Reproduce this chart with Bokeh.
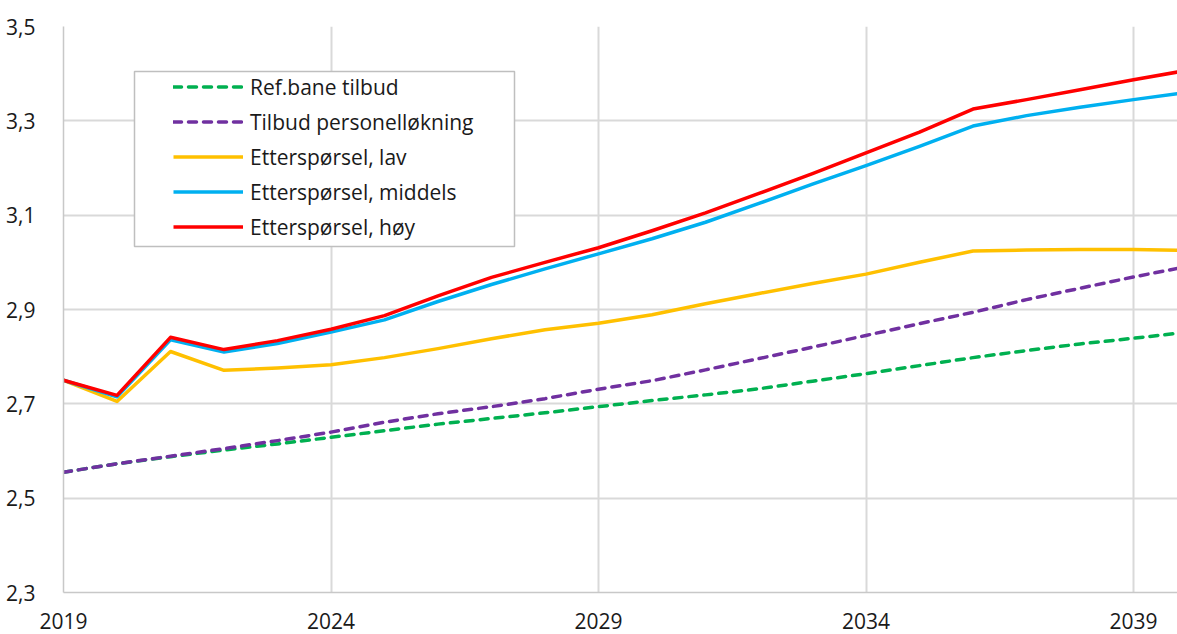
from bokeh.plotting import figure
from bokeh.models import (Range1d, FixedTicker, CustomJSTickFormatter, Legend,
                          LegendItem, BoxAnnotation)
from bokeh.embed import file_html
from bokeh.resources import INLINE

years = list(range(2019, 2041))

ref_tilbud = [2.555, 2.573, 2.588, 2.602, 2.615, 2.629, 2.643, 2.657, 2.669, 2.681,
              2.694, 2.707, 2.719, 2.732, 2.748, 2.764, 2.781, 2.798, 2.813, 2.827,
              2.839, 2.852]
tilbud_personell = [2.555, 2.573, 2.589, 2.605, 2.622, 2.640, 2.661, 2.679, 2.694, 2.711,
                    2.731, 2.749, 2.772, 2.796, 2.820, 2.845, 2.870, 2.894, 2.921, 2.945,
                    2.969, 2.991]
ettersporsel_lav = [2.750, 2.705, 2.811, 2.771, 2.776, 2.783, 2.798, 2.817, 2.838, 2.857,
                    2.871, 2.889, 2.912, 2.934, 2.955, 2.975, 3.000, 3.024, 3.026, 3.027,
                    3.027, 3.025]
ettersporsel_middels = [2.750, 2.715, 2.836, 2.810, 2.828, 2.852, 2.878, 2.917, 2.953, 2.986,
                        3.018, 3.050, 3.085, 3.125, 3.166, 3.205, 3.246, 3.289, 3.311, 3.329,
                        3.345, 3.360]
ettersporsel_hoy = [2.750, 2.718, 2.841, 2.815, 2.834, 2.858, 2.887, 2.929, 2.968, 3.000,
                    3.031, 3.067, 3.105, 3.146, 3.188, 3.232, 3.276, 3.325, 3.345, 3.366,
                    3.387, 3.407]

labels = ["Ref.bane tilbud", "Tilbud personelløkning", "Etterspørsel, lav",
          "Etterspørsel, middels", "Etterspørsel, høy"]
colors = ["#00b050", "#7030a0", "#ffc000", "#00b0f0", "#ff0000"]
series = [ref_tilbud, tilbud_personell, ettersporsel_lav, ettersporsel_middels, ettersporsel_hoy]
dashed = [True, True, False, False, False]

x_ticks = [2019, 2024, 2029, 2034, 2039]
y_ticks = [2.3, 2.5, 2.7, 2.9, 3.1, 3.3, 3.5]

FRAME_W, FRAME_H = 1114, 566
X0, X1 = 2019, 2019 + FRAME_W / 53.5
Y0, Y1 = 2.3, 3.5

p = figure(width=1177, height=634, output_backend="svg", toolbar_location=None,
           x_range=Range1d(X0, X1), y_range=Range1d(Y0, Y1),
           min_border_left=63, min_border_right=0, min_border_top=26, min_border_bottom=42)
p.outline_line_color = None
p.background_fill_color = "white"
p.border_fill_color = "white"

FONT = "Open Sans"
for ax in (p.xaxis[0], p.yaxis[0]):
    ax.axis_line_color = "#c8c8c8"
    ax.axis_line_width = 1.5
    ax.major_tick_line_color = None
    ax.minor_tick_line_color = None
    ax.major_label_text_font = FONT
    ax.major_label_text_font_size = "21px"
    ax.major_label_text_color = "#1a1a1a"

p.xaxis[0].ticker = FixedTicker(ticks=x_ticks)
p.xaxis[0].formatter = CustomJSTickFormatter(code="return tick.toFixed(0);")
p.xaxis[0].major_label_standoff = 14
p.yaxis[0].ticker = FixedTicker(ticks=y_ticks)
p.yaxis[0].formatter = CustomJSTickFormatter(code="return tick.toFixed(1).replace('.', ',');")
p.yaxis[0].major_label_standoff = 22

p.xgrid[0].ticker = FixedTicker(ticks=x_ticks)
p.ygrid[0].ticker = FixedTicker(ticks=y_ticks)
for g in (p.xgrid[0], p.ygrid[0]):
    g.grid_line_color = "#d9d9d9"
    g.grid_line_width = 2

renderers = []
for ys, c, d in zip(series, colors, dashed):
    kw = dict(line_color=c, line_width=3.5, line_join="round")
    if d:
        kw.update(line_dash="8 7", line_cap="round")
    r = p.line(years, ys, **kw)
    renderers.append(r)

# legend frame (white box with gray border)
px_x = (X1 - X0) / FRAME_W
px_y = (Y1 - Y0) / FRAME_H
box = BoxAnnotation(left=X0 + 71 * px_x, right=X0 + 451 * px_x,
                    top=Y1 - 45 * px_y, bottom=Y1 - 220 * px_y,
                    fill_color="white", fill_alpha=1.0,
                    line_color="#bfbfbf", line_width=1.5, line_alpha=1.0)
p.add_layout(box)

legend = Legend(items=[LegendItem(label=l, renderers=[r]) for l, r in zip(labels, renderers)],
                location=(110, FRAME_H - 218), padding=0, spacing=0, margin=0,
                glyph_width=70, glyph_height=35, label_height=35, label_standoff=7,
                label_text_font=FONT, label_text_font_size="21px",
                label_text_color="#1a1a1a",
                border_line_alpha=0, background_fill_alpha=0)
p.add_layout(legend, "center")

open("out.html", "w").write(file_html(p, INLINE))
